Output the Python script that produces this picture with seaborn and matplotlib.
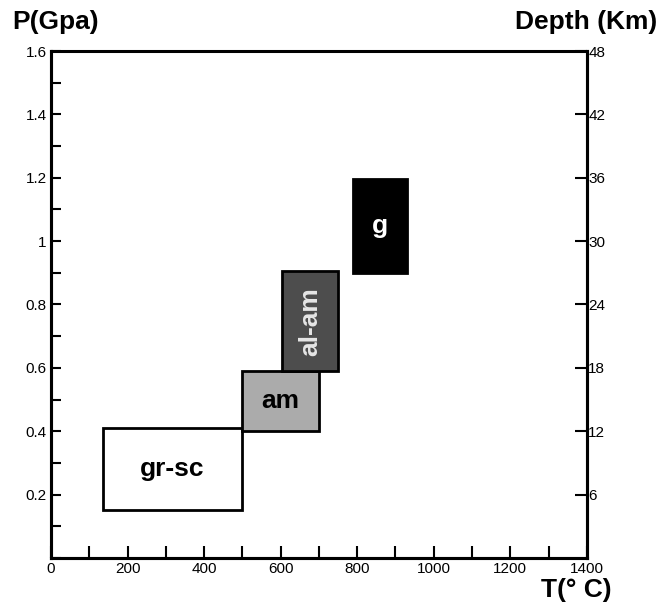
import matplotlib
matplotlib.use("Agg")
import matplotlib.pyplot as plt
import seaborn as sns
from matplotlib.ticker import MultipleLocator

# ---------------------------------------------------------
# DATA: metamorphic facies fields (T in deg C, P in GPa)
# ---------------------------------------------------------
facies = ['gr-sc', 'am', 'al-am', 'g']
t_min = [135, 500, 603, 790]
t_max = [500, 700, 750, 930]
p_min = [0.15, 0.40, 0.59, 0.90]
p_max = [0.41, 0.59, 0.905, 1.195]
fill_colors = ['white', '#ababab', '#4d4d4d', 'black']
text_colors = ['black', 'black', '#e6e6e6', 'white']
text_rot = [0, 0, 90, 0]

t_ticks = [0, 200, 400, 600, 800, 1000, 1200, 1400]
p_ticks = [0.2, 0.4, 0.6, 0.8, 1.0, 1.2, 1.4, 1.6]
p_labels = ['0.2', '0.4', '0.6', '0.8', '1', '1.2', '1.4', '1.6']
depth_ticks = [6, 12, 18, 24, 30, 36, 42, 48]

sns.set_style("ticks")
plt.rcParams['font.family'] = ['Liberation Sans', 'DejaVu Sans']
plt.rcParams['text.color'] = 'black'
plt.rcParams['xtick.color'] = 'black'
plt.rcParams['ytick.color'] = 'black'
plt.rcParams['axes.labelcolor'] = 'black'

fig = plt.figure(figsize=(6.64, 6.05), dpi=100)
ax = fig.add_axes([0.0768, 0.0777, 0.807, 0.838])

# facies boxes
widths = [b - a for a, b in zip(t_min, t_max)]
heights = [b - a for a, b in zip(p_min, p_max)]
ax.bar(t_min, heights, width=widths, bottom=p_min, align='edge',
       color=fill_colors, edgecolor='black', linewidth=2, zorder=3)

for name, x0, x1, y0, y1, tc, rot in zip(facies, t_min, t_max, p_min, p_max, text_colors, text_rot):
    ax.text((x0 + x1) / 2, (y0 + y1) / 2, name, ha='center', va='center',
            fontsize=19, fontweight='bold', color=tc, rotation=rot, zorder=4)

ax.set_xlim(0, 1400)
ax.set_ylim(0, 1.6)
ax.set_xticks(t_ticks)
ax.xaxis.set_minor_locator(MultipleLocator(100))
ax.set_yticks(p_ticks)
ax.set_yticklabels(p_labels)
ax.yaxis.set_minor_locator(MultipleLocator(0.1))
ax.tick_params(axis='both', which='both', direction='in', width=1.5, colors='black',
               labelsize=11, top=False, right=False)
ax.tick_params(axis='x', which='both', length=9, pad=3)
ax.tick_params(axis='y', which='both', length=7.5, pad=3)

# depth axis on the right
ax2 = ax.twinx()
ax2.set_ylim(0, 48)
ax2.set_yticks(depth_ticks)
ax2.tick_params(axis='y', direction='in', length=9, width=1.5, labelsize=11, pad=1,
                colors='black')

for a in (ax, ax2):
    for side, sp in a.spines.items():
        sp.set_linewidth(2.2)
        sp.set_color('black')
ax.spines['top'].set_linewidth(1.8)

fig.text(12 / 664, 1 - 22 / 605, 'P(Gpa)', ha='left', va='center', fontsize=19,
         fontweight='bold', color='black')
fig.text(657 / 664, 1 - 22 / 605, 'Depth (Km)', ha='right', va='center', fontsize=19,
         fontweight='bold', color='black')
fig.text(612 / 664, 1 - 590 / 605, 'T(° C)', ha='right', va='center', fontsize=19,
         fontweight='bold', color='black')

fig.savefig('out.png', dpi=100, facecolor='white')
